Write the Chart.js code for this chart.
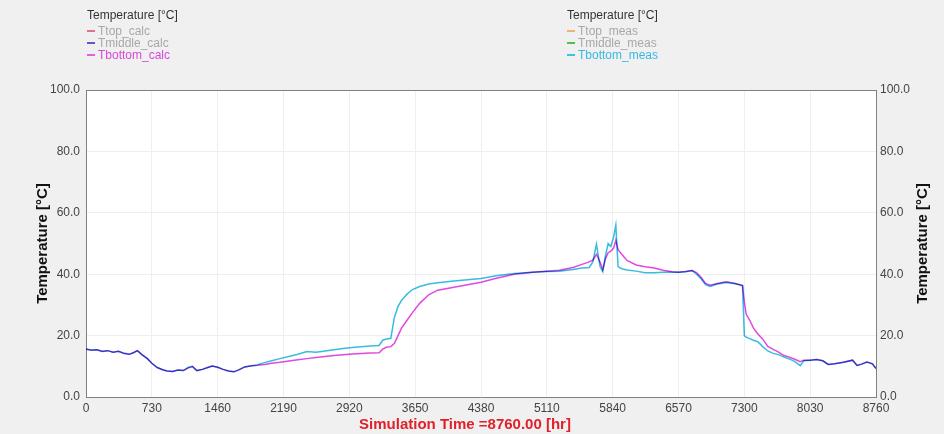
<!DOCTYPE html>
<html>
<head>
<meta charset="utf-8">
<script src="https://cdn.jsdelivr.net/npm/chart.js@4"></script>
<style>
  html, body { margin: 0; padding: 0; background: #f0f0f0; }
  #wrap { position: relative; width: 944px; height: 434px; }
  .legend { position: absolute; top: 9px; font: 12px "Liberation Sans", Arial, sans-serif; line-height: 12px; }
  .legend .ttl { color: #333; margin-bottom: 4px; }
  .legend .row { white-space: nowrap; }
  .legend .mk { display: inline-block; width: 8px; height: 2px; vertical-align: middle; margin-right: 3px; margin-top: -2px; }
</style>
</head>
<body>
<div id="wrap">
  <canvas id="chart" width="944" height="434"></canvas>
  <div class="legend" id="legCalc" style="left:87px"></div>
  <div class="legend" id="legMeas" style="left:567px"></div>
</div>
<script>
// hours of the year
const hours = [
  0, 60, 120, 180, 240, 300, 360, 420, 480, 530,
  570, 620, 680, 730, 790, 850, 900, 960, 1020, 1080,
  1130, 1180, 1230, 1290, 1350, 1400, 1460, 1520, 1580, 1640,
  1700, 1760, 1820, 1900, 1980, 2060, 2150, 2250, 2350, 2450,
  2550, 2650, 2750, 2850, 2950, 3050, 3150, 3250, 3290, 3330,
  3380, 3420, 3460, 3500, 3560, 3620, 3700, 3800, 3900, 4050,
  4200, 4380, 4550, 4750, 4950, 5110, 5250, 5400, 5500, 5580,
  5620, 5660, 5700, 5730, 5760, 5790, 5820, 5850, 5875, 5900,
  5940, 6000, 6100, 6200, 6300, 6400, 6500, 6570, 6650, 6720,
  6770, 6820, 6870, 6920, 7000, 7100, 7200, 7280, 7300, 7320,
  7360, 7400, 7450, 7500, 7560, 7620, 7680, 7740, 7800, 7860,
  7920, 7960, 8030, 8100, 8170, 8230, 8300, 8400, 8500, 8550,
  8600, 8660, 8720, 8760
];
// Tbottom_calc
const tBottomCalc = [
  15.6, 15.2, 15.4, 14.8, 15.1, 14.6, 14.9, 14.2, 13.9, 14.5,
  15.1, 13.8, 12.5, 11.0, 9.6, 8.9, 8.5, 8.3, 8.8, 8.6,
  9.4, 9.9, 8.6, 9.0, 9.6, 10.1, 9.7, 9.0, 8.5, 8.2,
  8.9, 9.8, 10.1, 10.3, 10.6, 11.0, 11.3, 11.7, 12.1, 12.5,
  12.9, 13.2, 13.5, 13.8, 14.0, 14.2, 14.3, 14.4, 15.6, 16.2,
  16.4, 17.5, 20.0, 22.5, 25.0, 27.5, 30.5, 33.3, 34.8, 35.6,
  36.4, 37.4, 38.7, 40.0, 40.6, 41.0, 41.3, 42.2, 43.2, 44.0,
  44.6, 46.5, 44.0, 41.5, 45.0, 47.0, 47.5, 48.5, 51.0, 48.0,
  46.5, 44.5, 43.0, 42.4, 42.0, 41.3, 40.8, 40.6, 40.9, 41.2,
  40.5, 39.0, 37.0, 36.4, 37.0, 37.5, 37.0, 36.4, 31.0, 27.0,
  25.0, 22.5, 20.5, 19.0, 16.5, 15.5, 14.6, 13.5, 13.0, 12.3,
  11.5, 12.0, 12.0, 12.2, 11.8, 10.6, 10.8, 11.3, 12.0, 10.3,
  10.7, 11.4, 10.8, 9.3
];
// Tbottom_meas
const tBottomMeas = [
  15.6, 15.3, 15.4, 14.9, 15.1, 14.6, 14.9, 14.3, 13.9, 14.5,
  15.1, 13.8, 12.5, 11.0, 9.6, 8.9, 8.5, 8.3, 8.8, 8.6,
  9.6, 10.0, 8.6, 9.0, 9.6, 10.1, 9.7, 9.0, 8.5, 8.2,
  8.9, 9.8, 10.1, 10.5, 11.2, 11.8, 12.5, 13.2, 13.9, 14.8,
  14.6, 15.0, 15.4, 15.8, 16.1, 16.4, 16.6, 16.8, 18.5, 18.9,
  19.1, 26.0, 29.5, 31.5, 33.5, 35.0, 36.0, 36.8, 37.2, 37.7,
  38.1, 38.6, 39.5, 40.2, 40.6, 40.9, 41.0, 41.5, 42.0, 42.2,
  44.0, 49.8, 42.5, 40.8, 46.0, 50.0, 49.0, 52.0, 56.0, 42.5,
  41.8, 41.4, 41.0, 40.5, 40.5, 40.6, 40.6, 40.6, 40.8, 41.2,
  40.0, 38.5, 36.6, 36.0, 36.8, 37.3, 36.9, 36.2, 20.0, 19.5,
  19.0, 18.5, 18.0, 16.5, 15.0, 14.2, 13.8, 13.0, 12.4, 11.5,
  10.2, 11.8, 12.0, 12.2, 11.8, 10.6, 10.8, 11.3, 12.0, 10.3,
  10.7, 11.4, 10.8, 9.3
];
const xTicks = [0, 730, 1460, 2190, 2920, 3650, 4380, 5110, 5840, 6570, 7300, 8030, 8760];
const yTicks = [0, 20, 40, 60, 80, 100];

// legend entries (top/middle series are switched off in the plot)
const calcLegend = [
  { name: 'Ttop_calc', color: '#e07088', text: '#a8a8a8' },
  { name: 'Tmiddle_calc', color: '#5a5ac4', text: '#a8a8a8' },
  { name: 'Tbottom_calc', color: '#e060e0', text: '#d848d8' }
];
const measLegend = [
  { name: 'Ttop_meas', color: '#f0b070', text: '#a8a8a8' },
  { name: 'Tmiddle_meas', color: '#50c050', text: '#a8a8a8' },
  { name: 'Tbottom_meas', color: '#40c0e0', text: '#38b8e0' }
];

function renderLegend(id, items) {
  const el = document.getElementById(id);
  el.innerHTML = '<div class="ttl">Temperature [°C]</div>' + items.map(it =>
    `<div class="row" style="color:${it.text}"><span class="mk" style="background:${it.color}"></span>${it.name}</div>`
  ).join('');
}
renderLegend('legCalc', calcLegend);
renderLegend('legMeas', measLegend);

const toPoints = vals => vals.map((v, i) => ({ x: hours[i], y: v }));

const fontFamily = '"Liberation Sans", Arial, sans-serif';
const font = { family: fontFamily, size: 12 };
const titleFont = { family: fontFamily, size: 15, weight: 'bold' };

function drawText(ctx, text, x, y, color, rot) {
  ctx.save();
  ctx.translate(x, y);
  if (rot) ctx.rotate(rot);
  ctx.fillStyle = color;
  ctx.font = 'bold 15px ' + fontFamily;
  ctx.textAlign = 'center';
  ctx.textBaseline = 'middle';
  ctx.fillText(text, 0, 0);
  ctx.restore();
}

const plotFrame = {
  id: 'plotFrame',
  beforeDraw(chart) {
    const a = chart.chartArea, ctx = chart.ctx;
    ctx.save();
    ctx.fillStyle = '#ffffff';
    ctx.fillRect(a.left, a.top, a.right - a.left, a.bottom - a.top);
    ctx.restore();
  },
  // overlapping lines mix like in the original plot
  beforeDatasetsDraw(chart) {
    chart.ctx.save();
    chart.ctx.globalCompositeOperation = 'multiply';
  },
  afterDatasetsDraw(chart) {
    chart.ctx.restore();
  },
  afterDraw(chart) {
    const a = chart.chartArea, ctx = chart.ctx;
    ctx.save();
    ctx.strokeStyle = '#808080';
    ctx.lineWidth = 1;
    ctx.beginPath();
    ctx.moveTo(a.left, a.top + 0.5);
    ctx.lineTo(a.right, a.top + 0.5);
    ctx.stroke();
    ctx.restore();
    const midY = (a.top + a.bottom) / 2;
    drawText(ctx, 'Temperature [°C]', 43, midY, '#111', -Math.PI / 2);
    drawText(ctx, 'Temperature [°C]', 923, midY, '#111', -Math.PI / 2);
    drawText(ctx, 'Simulation Time =8760.00 [hr]', 465, 425, '#e0202a', 0);
  }
};

new Chart(document.getElementById('chart'), {
  type: 'line',
  data: {
    datasets: [
      {
        label: 'Tbottom_meas',
        data: toPoints(tBottomMeas),
        borderColor: '#38bce0',
        borderWidth: 1.5,
        pointRadius: 0,
        order: 2
      },
      {
        label: 'Tbottom_calc',
        data: toPoints(tBottomCalc),
        borderColor: '#e048e0',
        borderWidth: 1.5,
        pointRadius: 0,
        order: 1
      }
    ]
  },
  options: {
    responsive: false,
    animation: false,
    layout: { padding: { top: 90, left: 31, right: 9, bottom: 0 } },
    plugins: { legend: { display: false }, tooltip: { enabled: false } },
    scales: {
      x: {
        type: 'linear',
        min: 0,
        max: 8760,
        afterFit: s => { s.height = 37; },
        afterBuildTicks: s => { s.ticks = xTicks.map(v => ({ value: v })); },
        ticks: { color: '#444', font: font, padding: 4, autoSkip: false, maxRotation: 0, callback: v => String(v) },
        grid: { color: '#efefef', drawTicks: false },
        border: { color: '#808080' }
      },
      y: {
        position: 'left',
        min: 0,
        max: 100,
        afterFit: s => { s.width = 55; },
        afterBuildTicks: s => { s.ticks = yTicks.map(v => ({ value: v })); },
        ticks: { color: '#444', font: font, padding: 6, callback: v => v.toFixed(1) },
        grid: { color: '#efefef', drawTicks: false },
        border: { color: '#808080' }
      },
      y2: {
        position: 'right',
        min: 0,
        max: 100,
        afterFit: s => { s.width = 59; },
        afterBuildTicks: s => { s.ticks = yTicks.map(v => ({ value: v })); },
        ticks: { color: '#444', font: font, padding: 4, callback: v => v.toFixed(1) },
        grid: { drawOnChartArea: false, drawTicks: false },
        border: { color: '#808080' }
      }
    }
  },
  plugins: [plotFrame]
});
</script>
</body>
</html>
